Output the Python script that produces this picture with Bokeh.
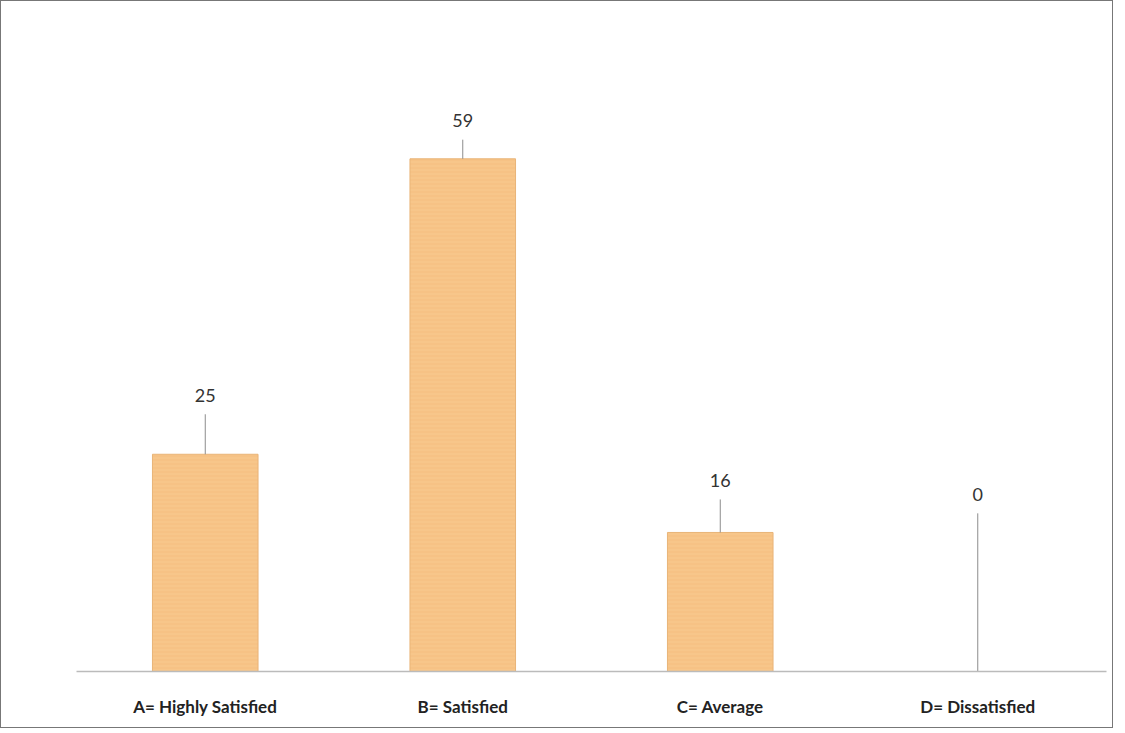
from bokeh.plotting import figure
from bokeh.models import ColumnDataSource, Range1d
from bokeh.core.properties import value
from bokeh.embed import file_html
from bokeh.resources import INLINE

categories = ["A= Highly Satisfied", "B= Satisfied", "C= Average", "D= Dissatisfied"]
counts = [25, 59, 16, 0]
label_y = [31.8, 63.4, 22.0, 20.4]
labels = [str(v) for v in counts]

src = ColumnDataSource(dict(
    cat=categories, val=counts, ly=label_y, txt=labels,
    lend=[y - 2.2 for y in label_y],
))

p = figure(x_range=categories, y_range=Range1d(0, 74.8), width=1113, height=728,
           output_backend="svg", toolbar_location=None,
           min_border_left=75, min_border_right=8, min_border_top=20, min_border_bottom=58)
p.styles = {"border": "1px solid #777777"}
p.outline_line_color = None
p.xgrid.grid_line_color = None
p.ygrid.grid_line_color = None
p.yaxis.visible = False

p.vbar(x="cat", top="val", width=0.41, source=src,
       fill_color="#F7C68A", line_color="#E9B478", line_width=1,
       hatch_pattern="horizontal_line", hatch_color="#F2B878", hatch_alpha=0.5,
       hatch_scale=4, hatch_weight=1)

p.segment(x0="cat", y0="val", x1="cat", y1="lend", source=src,
          line_color="#8C8C8C", line_width=1)

p.text(x="cat", y="ly", text="txt", source=src, text_align="center",
       text_baseline="middle", text_font=value("Lato"),
       text_font_size="18px", text_color="#333333")

ax = p.xaxis[0]
ax.axis_line_color = "#BBBBBB"
ax.axis_line_width = 1.5
ax.major_tick_line_color = None
ax.minor_tick_line_color = None
ax.major_label_text_font = "Lato"
ax.major_label_text_font_style = "bold"
ax.major_label_text_font_size = "17px"
ax.major_label_text_color = "#222222"
ax.major_label_standoff = 18

open("out.html", "w").write(file_html(p, INLINE))
